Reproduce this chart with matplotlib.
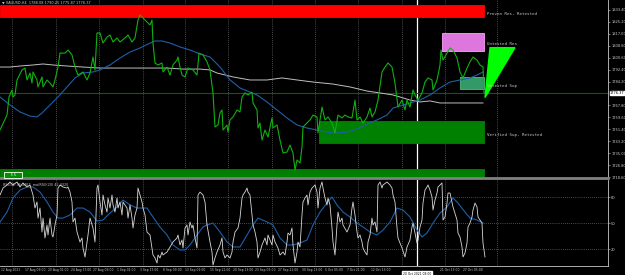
import numpy as np
import matplotlib.pyplot as plt
from matplotlib.patches import Polygon

# ---- price pane (XAUUSD H4) ----
px_t = [0, 7, 9, 12, 13, 15, 17, 22, 25, 27, 30, 32, 33, 37, 38, 42, 43, 47, 50, 53, 55, 58, 60, 65, 68, 72, 75, 78,
        83, 87, 90, 93, 95, 97, 100, 103, 107, 110, 113, 117, 120, 125, 128, 132, 135, 138, 140, 143, 147, 150, 152,
        153, 155, 158, 162, 163, 167, 170, 173, 177, 178, 180, 182, 185, 188, 193, 197, 199, 203, 207, 210, 213, 215,
        218, 220, 222, 223, 227, 228, 230, 233, 237, 240, 242, 245, 248, 252, 253, 257, 258, 260, 262, 265, 268, 272,
        273, 277, 280, 283, 287, 290, 293, 295, 297, 300, 302, 303, 307, 310, 313, 317, 318, 322, 325, 328, 332, 335,
        338, 342, 345, 348, 352, 355, 357, 360, 363, 367, 370, 372, 375, 378, 382, 385, 388, 392, 395, 398, 402, 405,
        407, 410, 413, 415, 418, 422, 425, 428, 432, 433, 437, 440, 441, 443, 447, 450, 453, 457, 460, 463, 467, 470,
        473, 477, 480, 483, 484]
px_close = [1750.9, 1761.2, 1773.6, 1778.4, 1773.6, 1775.0, 1785.3, 1792.2, 1793.5, 1785.3, 1790.1, 1783.2, 1790.8,
            1785.3, 1780.5, 1787.4, 1780.5, 1785.3, 1783.2, 1780.5, 1785.3, 1794.2, 1803.8, 1803.8, 1805.9, 1802.5,
            1794.2, 1788.7, 1790.8, 1785.3, 1790.1, 1801.1, 1792.2, 1817.6, 1817.6, 1810.7, 1814.8, 1816.2, 1811.4,
            1814.2, 1811.4, 1814.2, 1816.2, 1811.4, 1814.2, 1826.5, 1830.0, 1827.9, 1825.1, 1823.1, 1826.5, 1810.7,
            1797.0, 1795.6, 1797.0, 1790.8, 1794.2, 1788.7, 1795.6, 1799.0, 1801.1, 1794.2, 1788.7, 1787.4, 1793.5,
            1792.2, 1788.7, 1803.8, 1802.5, 1797.7, 1792.2, 1776.4, 1753.0, 1754.4, 1762.6, 1764.7, 1750.9, 1754.4,
            1749.5, 1757.8, 1759.9, 1764.7, 1763.3, 1773.6, 1776.4, 1775.0, 1777.0, 1769.5, 1764.7, 1752.3, 1755.7,
            1744.0, 1750.9, 1746.1, 1759.2, 1752.3, 1754.4, 1744.0, 1735.1, 1735.8, 1740.6, 1735.1, 1723.4, 1730.3,
            1728.2, 1739.2, 1753.0, 1755.7, 1757.8, 1761.2, 1759.9, 1748.9, 1766.7, 1757.8, 1759.9, 1755.7, 1748.9,
            1761.2, 1759.2, 1761.2, 1759.9, 1759.2, 1771.5, 1757.8, 1759.9, 1755.7, 1759.9, 1766.0, 1759.9, 1763.3,
            1771.5, 1790.8, 1794.2, 1797.0, 1794.2, 1783.2, 1766.7, 1771.5, 1764.7, 1771.5, 1766.7, 1778.4, 1775.0,
            1771.5, 1776.4, 1783.9, 1786.7, 1785.3, 1778.4, 1785.3, 1795.6, 1805.9, 1799.0, 1803.8, 1807.3, 1805.9,
            1800.4, 1790.8, 1786.7, 1793.5, 1797.7, 1801.1, 1799.0, 1795.6, 1794.2, 1776.4]

ma_fast_t = [0, 10, 20, 30, 37, 42, 50, 58, 67, 75, 83, 93, 100, 110, 120, 130, 140, 148, 155, 162, 170, 180, 190,
             200, 210, 220, 230, 240, 250, 257, 267, 277, 287, 297, 307, 317, 327, 337, 347, 357, 367, 377, 387, 393,
             400, 410, 420, 430, 440, 450, 460, 470, 477, 483]
ma_fast = [1773.6, 1768.1, 1763.3, 1760.5, 1759.9, 1762.6, 1768.1, 1773.6, 1780.5, 1786.7, 1790.1, 1790.8, 1792.2,
           1795.6, 1800.4, 1804.5, 1807.3, 1810.0, 1812.1, 1812.1, 1810.7, 1808.0, 1805.9, 1803.2, 1801.1, 1794.2,
           1785.3, 1779.8, 1777.0, 1775.0, 1770.2, 1764.7, 1759.2, 1754.4, 1752.3, 1750.9, 1749.5, 1748.9, 1749.5,
           1751.6, 1755.0, 1757.8, 1761.2, 1766.0, 1767.4, 1769.5, 1771.5, 1775.0, 1779.8, 1783.9, 1785.3, 1786.7,
           1788.7, 1790.8]

ma_slow_t = [0, 10, 20, 33, 43, 53, 67, 83, 100, 133, 150, 167, 183, 200, 210, 217, 233, 250, 267, 282, 297, 313,
             333, 350, 367, 380, 393, 400, 410, 420, 430, 440, 460, 483]
ma_slow = [1794.2, 1794.2, 1794.9, 1795.6, 1796.3, 1795.6, 1794.9, 1794.2, 1793.5, 1793.5, 1793.5, 1793.5, 1792.8,
           1792.8, 1792.2, 1790.1, 1787.4, 1785.3, 1785.3, 1786.7, 1785.3, 1783.9, 1782.5, 1780.5, 1777.7, 1776.4,
           1775.0, 1773.6, 1771.5, 1770.2, 1770.9, 1769.5, 1769.5, 1769.5]

last_price = 1776.37

# supply / demand zones
zone_names = ["Proven Res, Retested", "Untested Res", "Untested Sup", "Verified Sup, Retested", ""]
zone_start = [0, 442, 460, 319, 0]
zone_end = 484
zone_lo = [1828.6, 1805.2, 1779.1, 1742.0, 1717.9]
zone_hi = [1836.8, 1817.6, 1787.4, 1757.1, 1724.1]
zone_label_y = [1830.6, 1810.0, 1781.2, 1747.4, None]
zone_face = ["#ff0000", "#dd77dd", "#339966", "#008000", "#008000"]
zone_edge = ["#ff0000", "#ffa0ff", "#55bb88", "#008000", "#008000"]

arrow_t = [490, 515, 485]
arrow_p = [1807.5, 1807.5, 1773.2]

price_ticks = [1833.40, 1825.20, 1817.00, 1808.80, 1800.60, 1792.40, 1784.20, 1767.80, 1759.60,
               1751.40, 1743.20, 1735.00, 1726.80, 1718.60]

# ---- RSI pane ----
rsi_t = [0, 3, 7, 10, 13, 17, 20, 23, 27, 30, 33, 35, 37, 38, 40, 42, 43, 45, 47, 48, 50, 52, 53, 55, 57, 58, 60, 63,
         67, 68, 70, 72, 73, 75, 77, 80, 82, 83, 85, 87, 88, 90, 93, 95, 97, 98, 100, 102, 103, 105, 107, 108, 110,
         112, 113, 115, 117, 118, 120, 122, 123, 127, 128, 130, 132, 133, 135, 137, 138, 140, 142, 143, 145, 147, 150,
         152, 153, 155, 157, 158, 160, 162, 163, 167, 170, 173, 177, 178, 180, 182, 183, 185, 187, 188, 190, 192, 193,
         195, 197, 198, 200, 203, 205, 207, 210, 212, 213, 215, 217, 220, 222, 223, 225, 227, 230, 232, 233, 235, 238,
         240, 242, 243, 245, 247, 248, 250, 253, 255, 257, 258, 260, 262, 265, 267, 268, 272, 273, 275, 278, 280, 283,
         285, 287, 288, 290, 292, 293, 295, 297, 298, 300, 302, 303, 305, 307, 308, 310, 312, 313, 315, 317, 318, 320,
         322, 323, 325, 327, 328, 330, 332, 333, 335, 337, 338, 340, 342, 343, 347, 350, 352, 353, 355, 357, 358, 360,
         362, 363, 365, 367, 368, 370, 372, 373, 375, 377, 378, 380, 382, 383, 387, 390, 392, 393, 395, 397, 398, 400,
         402, 405, 407, 410, 412, 413, 415, 417, 418, 420, 422, 423, 425, 427, 428, 430, 432, 433, 435, 437, 438, 440,
         442, 443, 445, 447, 448, 450, 453, 457, 458, 460, 462, 463, 465, 467, 468, 470, 472, 473, 475, 477, 478, 480,
         482, 483, 485]
rsi = [82.4, 90.4, 93.9, 97.3, 93.9, 97.3, 91.6, 96.2, 91.6, 93.9, 82.4, 67.5, 74.4, 56.0, 67.5, 40.0, 56.0, 33.2,
       48.1, 36.6, 56.0, 36.6, 34.3, 48.1, 59.5, 90.4, 93.9, 91.6, 90.4, 91.6, 85.8, 74.4, 51.5, 56.0, 40.0, 28.6, 33.2,
       21.7, 11.4, 28.6, 36.6, 56.0, 44.6, 28.6, 90.4, 93.9, 74.4, 59.5, 82.4, 71.0, 62.9, 79.0, 67.5, 82.4, 71.0,
       62.9, 79.0, 67.5, 74.4, 59.5, 74.4, 67.5, 56.0, 71.0, 56.0, 44.6, 59.5, 67.5, 90.4, 82.4, 74.4, 67.5, 59.5,
       40.0, 36.6, 21.7, 13.7, 10.3, 4.5, 13.7, 10.3, 17.1, 13.7, 17.1, 22.9, 28.6, 33.2, 36.6, 25.2, 30.9, 21.7, 44.6,
       48.1, 36.6, 51.5, 44.6, 48.1, 33.2, 21.7, 82.4, 85.8, 82.4, 74.4, 48.1, 28.6, 17.1, 2.2, 10.3, 17.1, 25.2, 33.2,
       17.1, 10.3, 13.7, 10.3, 17.1, 28.6, 40.0, 44.6, 56.0, 79.0, 82.4, 85.8, 90.4, 85.8, 82.4, 48.1, 40.0, 28.6,
       10.3, 17.1, 25.2, 33.2, 25.2, 36.6, 25.2, 36.6, 28.6, 21.7, 13.7, 17.1, 13.7, 28.6, 38.9, 36.6, 44.6, 25.2,
       4.5, 17.1, 28.6, 22.9, 59.5, 74.4, 79.0, 82.4, 71.0, 85.8, 90.4, 91.6, 93.9, 85.8, 67.5, 90.4, 97.3, 90.4, 79.0,
       71.0, 79.0, 71.0, 44.6, 28.6, 13.7, 48.1, 62.9, 51.5, 56.0, 48.1, 40.0, 48.1, 67.5, 74.4, 59.5, 40.0, 33.2,
       36.6, 28.6, 21.7, 17.1, 13.7, 28.6, 36.6, 56.0, 48.1, 51.5, 40.0, 93.9, 97.3, 90.4, 93.9, 97.3, 93.9, 90.4,
       82.4, 74.4, 44.6, 33.2, 27.4, 21.7, 11.4, 22.9, 30.9, 45.8, 50.3, 38.9, 27.4, 30.9, 45.8, 53.8, 73.2, 88.1,
       91.6, 93.9, 88.1, 80.1, 65.2, 76.7, 84.7, 91.6, 93.9, 96.2, 53.8, 57.2, 73.2, 84.7, 84.7, 68.7, 53.8, 38.9,
       34.3, 22.9, 11.4, 16.0, 27.4, 45.8, 50.3, 57.2, 65.2, 73.2, 68.7, 57.2, 53.8, 50.3, 27.4, 11.4]

rsi_ma_t = [0, 7, 13, 20, 27, 33, 40, 47, 53, 58, 63, 70, 77, 83, 90, 97, 103, 110, 117, 123, 130, 137, 147, 153,
            160, 167, 173, 180, 185, 190, 197, 203, 207, 213, 220, 227, 233, 240, 247, 253, 258, 267, 273, 280, 287,
            293, 300, 307, 313, 320, 327, 332, 337, 343, 350, 357, 363, 370, 377, 383, 390, 397, 403, 410, 417, 422,
            427, 433, 440, 447, 453, 458, 465, 470, 477, 483]
rsi_ma = [51.5, 62.9, 79.0, 88.1, 91.6, 91.6, 85.8, 74.4, 62.9, 56.0, 56.0, 59.5, 67.5, 67.5, 62.9, 52.6, 53.8, 61.8,
          68.7, 76.7, 71.0, 67.5, 67.5, 57.2, 45.8, 36.6, 25.2, 19.4, 19.4, 25.2, 36.6, 45.8, 48.1, 50.3, 40.0, 28.6,
          22.9, 22.9, 36.6, 48.1, 56.0, 51.5, 48.1, 33.2, 25.2, 25.2, 27.4, 30.9, 48.1, 62.9, 73.2, 80.1, 71.0, 62.9,
          57.2, 50.3, 45.8, 40.0, 36.6, 42.3, 51.5, 67.5, 65.2, 57.2, 42.3, 34.3, 38.9, 50.3, 61.8, 68.7, 79.0, 73.2,
          62.9, 56.0, 53.8, 50.3]

grid_t = [12, 56, 99, 143, 185, 228, 272, 315, 358, 402, 445, 497]
vline_t = 417
date_t = [1, 25, 48, 71, 93, 117, 140, 163, 185, 210, 233, 255, 278, 302, 325, 347, 371, 440, 463]
date_labels = ["12 Aug 2021", "17 Aug 09:00", "20 Aug 01:00", "24 Aug 17:00", "27 Aug 09:00", "1 Sep 01:00",
               "3 Sep 17:00", "8 Sep 09:00", "13 Sep 01:00", "15 Sep 21:00", "20 Sep 13:00", "23 Sep 05:00",
               "27 Sep 21:00", "30 Sep 13:00", "5 Oct 05:00", "7 Oct 21:00", "12 Oct 13:00", "21 Oct 13:00",
               "27 Oct 05:00"]

T_MAX = 608
fs = 2.6
fg = "#c8c8c8"
grid_kw = dict(color="#909090", lw=0.5, ls=(0, (1, 2)))

fig = plt.figure(figsize=(6.25, 2.75), dpi=100, facecolor="black")
ax = fig.add_axes([0, 1 - 178 / 275, T_MAX / 625, 178 / 275], facecolor="black")
ax2 = fig.add_axes([0, 1 - 266 / 275, T_MAX / 625, 86 / 275], facecolor="black")

for a in (ax, ax2):
    a.set_xlim(0, T_MAX)
    for s in ("top", "left"):
        a.spines[s].set_visible(False)
    a.spines["right"].set_color(fg)
    a.spines["right"].set_linewidth(0.6)
    a.spines["bottom"].set_color("#808080")
    a.yaxis.tick_right()
    a.tick_params(axis="y", colors=fg, labelsize=fs, length=1.5, width=0.4, pad=0.8)
    a.tick_params(axis="x", length=0)
    for g in grid_t:
        a.axvline(g, zorder=0, **grid_kw)
    a.axvline(vline_t, color="white", lw=0.9, zorder=1)

ax.spines["bottom"].set_linewidth(2)
ax.set_ylim(1717.93, 1840.27)
ax.set_yticks(price_ticks)
ax.set_yticklabels([f"{v:.2f}" for v in price_ticks])
ax.set_xticks([])

# zones
for name, x0, lo, hi, ly, fc, ec in zip(zone_names, zone_start, zone_lo, zone_hi, zone_label_y, zone_face, zone_edge):
    ax.fill_between([x0, zone_end], lo, hi, facecolor=fc, edgecolor=ec, lw=0.6, zorder=2)
    if ly is not None:
        ax.text(zone_end + 3, ly, name, color=fg, fontsize=3.0, family="DejaVu Sans Mono", va="center", zorder=6)

ax.add_patch(Polygon(list(zip(arrow_t, arrow_p)), closed=True, color="#00ff00", zorder=5))

ax.axhline(last_price, color="#006400", lw=0.8, zorder=3)
ax.plot(ma_slow_t, ma_slow, color="#c0c0c0", lw=0.7, zorder=3)
ax.plot(ma_fast_t, ma_fast, color="#1f5fa8", lw=0.8, zorder=3)
ax.plot(px_t, px_close, color="#10b010", lw=0.8, zorder=4)

ax.text(T_MAX + 2, last_price, f"{last_price:.2f}", color="black", fontsize=fs, va="center",
        bbox=dict(boxstyle="square,pad=0.1", fc="white", ec="white"), clip_on=False, zorder=7)
ax.text(2, 1838.3, "\u25bc XAUUSD,H4  1788.08 1790.25 1775.87 1776.37", color=fg, fontsize=2.5, va="center")
ax.text(13, 1720.0, "     5 5     ", color="white", fontsize=2.4, ha="center", va="center",
        bbox=dict(boxstyle="square,pad=0.35", fc="#009000", ec="white", lw=0.6), zorder=6)

# RSI pane
ax2.set_ylim(1.1, 99.6)
ax2.set_yticks([80, 50, 20])
for lv in (80, 50, 20):
    ax2.axhline(lv, zorder=0, **grid_kw)
ax2.plot(rsi_ma_t, rsi_ma, color="#1f5fa8", lw=0.8, zorder=3)
ax2.plot(rsi_t, rsi, color="#d8d8d8", lw=0.6, zorder=4)
ax2.text(3, 94, "RSI(14) 36.3467  ma(RSI)(20) 42.4320", color=fg, fontsize=2.4, va="center")
ax2.spines["bottom"].set_color(fg)
ax2.spines["bottom"].set_linewidth(0.6)

ax2.set_xticks(date_t)
ax2.set_xticklabels(date_labels, fontsize=2.2, color=fg, ha="left")
ax2.tick_params(axis="x", pad=1.5)
ax2.text(vline_t, -7.5, "20 Oct 2021 08:00", color="black", fontsize=2.2, ha="center", va="center",
         bbox=dict(boxstyle="square,pad=0.25", fc="white", ec="white"), clip_on=False, zorder=7)

fig.savefig("out.png", dpi=100, facecolor="black")
